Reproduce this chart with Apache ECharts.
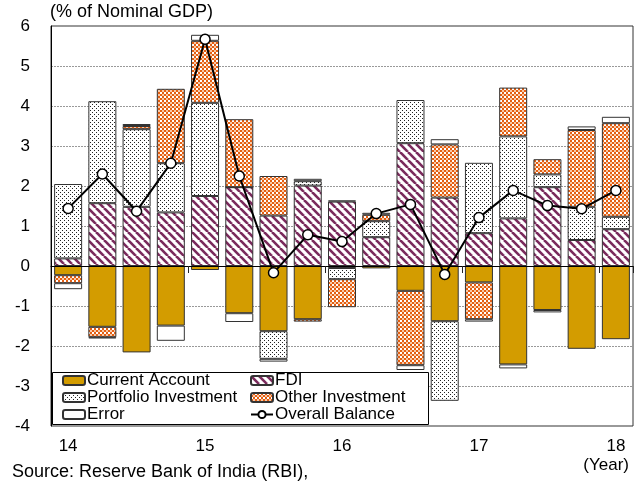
<!DOCTYPE html>
<html>
<head>
<meta charset="utf-8">
<script src="https://cdn.jsdelivr.net/npm/echarts@6/dist/echarts.min.js"></script>
<style>html,body{margin:0;padding:0;background:#fff}#c{width:641px;height:483px}</style>
</head>
<body>
<div id="c"></div>
<script>
var quarters = ['14Q1','14Q2','14Q3','14Q4','15Q1','15Q2','15Q3','15Q4','16Q1','16Q2','16Q3','16Q4','17Q1','17Q2','17Q3','17Q4','18Q1'];
var yearLabels = ['14','15','16','17','18'];
var yTicks = [-4,-3,-2,-1,0,1,2,3,4,5,6];
var currentAccount = [-0.23,-1.52,-2.16,-1.49,-0.10,-1.18,-1.63,-1.33,-0.05,-0.06,-0.62,-1.38,-0.41,-2.46,-1.10,-2.07,-1.83];
var fdi = [0.19,1.57,1.48,1.34,1.75,1.97,1.26,2.01,1.61,0.72,3.07,1.71,0.82,1.19,1.97,0.65,0.92];
var portfolio = [1.86,2.55,1.94,1.23,2.33,0,-0.69,0.11,-0.28,0.40,1.08,-1.99,1.76,2.05,0.32,0.83,0.31];
var otherInv = [-0.20,-0.26,0.08,1.86,1.55,1.70,0.99,-0.06,-0.70,0.16,-1.86,1.33,-0.92,1.22,0.38,1.92,2.34];
var errorTerm = [-0.15,-0.03,0.05,-0.38,0.15,-0.22,-0.07,0.06,0.03,0.05,-0.12,0.13,-0.06,-0.10,-0.06,0.09,0.16];
var overall = [1.44,2.30,1.37,2.57,5.67,2.25,-0.17,0.78,0.61,1.31,1.54,-0.21,1.21,1.89,1.51,1.43,1.89];

function tile(w, h, draw) {
  var c = document.createElement('canvas');
  c.width = w; c.height = h;
  var g = c.getContext('2d');
  draw(g);
  return {image: c, repeat: 'repeat'};
}
var fdiPat = tile(8, 8, function (g) {
  g.fillStyle = '#fff'; g.fillRect(0, 0, 8, 8);
  g.strokeStyle = '#7a2a5c'; g.lineWidth = 2.6;
  [-8, 0, 8].forEach(function (k) { g.beginPath(); g.moveTo(k, 0); g.lineTo(k + 8, 8); g.stroke(); });
});
var portPat = tile(4, 4, function (g) {
  g.fillStyle = '#fff'; g.fillRect(0, 0, 4, 4);
  g.fillStyle = '#222'; g.fillRect(0, 0, 1, 1); g.fillRect(2, 2, 1, 1);
});
var otherPat = tile(4, 4, function (g) {
  g.fillStyle = '#e45f12'; g.fillRect(0, 0, 4, 4);
  g.fillStyle = '#fff'; g.fillRect(0, 0, 2, 2);
  g.fillStyle = '#f7c9a8'; g.fillRect(2, 2, 2, 2);
});

var FONT = 'Liberation Sans, Arial, sans-serif';
var border = {borderColor: '#333', borderWidth: 1};
function barSeries(name, data, color) {
  return {
    name: name, type: 'bar', stack: 'bop', data: data, barWidth: 28,
    xAxisIndex: 0, yAxisIndex: 0,
    itemStyle: Object.assign({color: color}, border),
    emphasis: {disabled: true}
  };
}

var chart = echarts.init(document.getElementById('c'), null, {renderer: 'canvas'});
chart.setOption({
  animation: false,
  backgroundColor: '#fff',
  textStyle: {fontFamily: FONT},
  grid: {left: 51, right: 8, top: 26, bottom: 57, show: true, borderColor: '#333', borderWidth: 1, backgroundColor: 'transparent'},
  xAxis: [
    {
      type: 'category', data: quarters, position: 'bottom', z: 6,
      axisLine: {onZero: true, lineStyle: {color: '#000', width: 1}},
      axisTick: {show: true, length: 7, interval: function (i) { return i % 4 === 0 && i > 0; }, lineStyle: {color: '#222', width: 1}},
      axisLabel: {show: false}, splitLine: {show: false}
    },
    {
      type: 'category', data: quarters, position: 'bottom',
      axisLine: {show: false, onZero: false}, axisTick: {show: false},
      axisLabel: {interval: 0, margin: 12, fontSize: 17, color: '#000', fontFamily: FONT,
        formatter: function (v, i) { return i % 4 === 0 ? yearLabels[i / 4] : ''; }},
      splitLine: {show: false}
    }
  ],
  yAxis: {
    type: 'value', min: yTicks[0], max: yTicks[yTicks.length - 1], interval: 1,
    axisLine: {show: true, lineStyle: {color: '#000'}}, axisTick: {show: false},
    axisLabel: {fontSize: 17, color: '#000', margin: 21, fontFamily: FONT},
    splitLine: {show: true, lineStyle: {color: '#999', type: [2, 1], width: 1}}
  },
  legend: [
    {
      data: ['Current Account', 'Portfolio Investment', 'Error'],
      orient: 'vertical', left: 62, top: 372, padding: 0, itemGap: 0,
      itemWidth: 22, itemHeight: 9, z: 10,
      textStyle: {fontSize: 17, color: '#000', fontFamily: FONT, lineHeight: 17, padding: [0, 0, 0, -3]}
    },
    {
      data: ['FDI', 'Other Investment', 'Overall Balance'],
      orient: 'vertical', left: 250, top: 372, padding: 0, itemGap: 0,
      itemWidth: 22, itemHeight: 9, z: 10,
      textStyle: {fontSize: 17, color: '#000', fontFamily: FONT, lineHeight: 17, padding: [0, 0, 0, -3]}
    }
  ],
  graphic: [
    {type: 'rect', left: 52, top: 372, z: 8, shape: {width: 376, height: 52}, style: {fill: '#fff', stroke: '#000', lineWidth: 1}},
    {type: 'text', left: 50, top: 3, style: {text: '(% of Nominal GDP)', font: '18px ' + FONT, fill: '#000'}},
    {type: 'text', right: 12, top: 457, style: {text: '(Year)', font: '17px ' + FONT, fill: '#000'}},
    {type: 'text', left: 12, top: 463, style: {text: 'Source: Reserve Bank of India (RBI),', font: '18px ' + FONT, fill: '#000'}}
  ],
  series: [
    barSeries('Current Account', currentAccount, '#d39c00'),
    barSeries('FDI', fdi, fdiPat),
    barSeries('Portfolio Investment', portfolio, portPat),
    barSeries('Other Investment', otherInv, otherPat),
    barSeries('Error', errorTerm, '#fff'),
    {
      name: 'Overall Balance', type: 'line', data: overall, xAxisIndex: 0, yAxisIndex: 0, z: 5,
      symbol: 'circle', symbolSize: 10,
      lineStyle: {color: '#000', width: 2},
      itemStyle: {color: '#fff', borderColor: '#000', borderWidth: 1.5},
      emphasis: {disabled: true}
    }
  ]
});
</script>
</body>
</html>
